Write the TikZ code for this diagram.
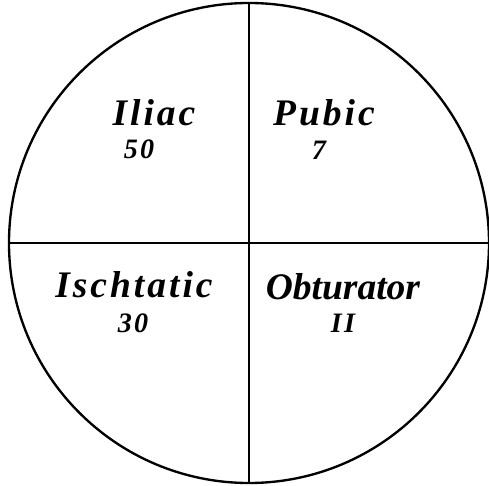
\documentclass[tikz,border=0pt]{standalone}
\usepackage{fontspec}
\setmainfont{Liberation Serif}
\newfontfamily\labelfont[LetterSpace=8]{Liberation Serif}
\newfontfamily\tightfont{Liberation Serif}
\tikzset{
  rim/.style={circle, draw=black, line width=2pt, minimum size=14.4cm, inner sep=0pt},
  divider/.style={draw=black, line width=2pt},
  region/.style={font=\labelfont\fontsize{32}{32}\selectfont\bfseries\itshape, inner sep=0pt},
  tightregion/.style={region, font=\tightfont\fontsize{32}{32}\selectfont\bfseries\itshape},
  count/.style={font=\labelfont\fontsize{24}{24}\selectfont\bfseries\itshape, inner sep=0pt},
}
\begin{document}
\begin{tikzpicture}[x=1cm,y=1cm]
  \useasboundingbox (0,0) rectangle (14.67,14.55);

  \node[rim] (rim) at (7.47,7.26) {};

  \draw[divider] (rim.north) -- (rim.south);
  \draw[divider] (rim.west) -- (rim.east);

  \node[region] (iliac) at (4.62,11.16) {Iliac};
  \node[count] (iliacn) at (4.17,10.08) {50};

  \node[region] (pubic) at (9.72,11.16) {Pubic};
  \node[count] (pubicn) at (9.57,10.05) {7};

  \node[region] (ischtatic) at (4.02,6.00) {Ischtatic};
  \node[count] (ischtaticn) at (3.99,4.86) {30};

  \node[tightregion] (obturator) at (10.29,5.94) {Obturator};
  \node[count] (obturatorn) at (10.29,4.86) {II};
\end{tikzpicture}
\end{document}
